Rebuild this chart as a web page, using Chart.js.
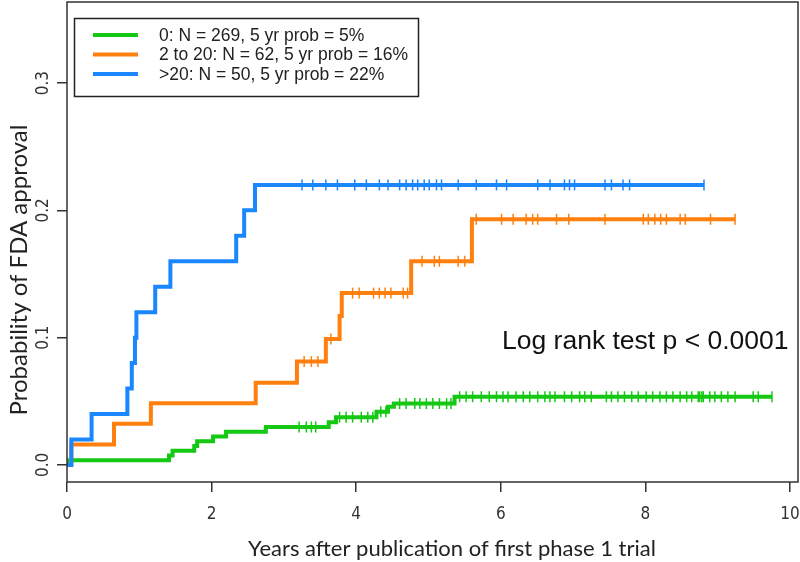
<!DOCTYPE html>
<html>
<head>
<meta charset="utf-8">
<script src="https://cdn.jsdelivr.net/npm/chart.js@4"></script>
<style>
  html, body { margin: 0; padding: 0; background: #fff; }
  #wrap { width: 800px; height: 562px; position: relative; }
</style>
</head>
<body>
<div id="wrap"><canvas id="km"></canvas></div>
<script>
/* ========= DATA ========= */
const xTicks = [0, 2, 4, 6, 8, 10];
const yTicks = [0, 0.1, 0.2, 0.3];
const groupLabels = [
  '0: N = 269, 5 yr prob = 5%',
  '2 to 20: N = 62, 5 yr prob = 16%',
  '>20: N = 50, 5 yr prob = 22%'
];
const groupColors = ['#14c814', '#ff800e', '#1a87ff'];

// step times (years) and cumulative probability after each step
const noneTimes = [0, 1.41, 1.46, 1.76, 1.80, 2.02, 2.20, 2.75, 3.62, 3.72, 4.28, 4.44, 4.52, 5.36];
const noneProbs = [0.0037, 0.0074, 0.0112, 0.0149, 0.0186, 0.0223, 0.026, 0.0298, 0.0336, 0.0375, 0.0418, 0.0458, 0.0482, 0.0536];
const noneEnd = 9.75;
const noneCensor = [3.21, 3.31, 3.38, 3.44, 3.77, 3.86, 3.95, 4.07, 4.16, 4.23, 4.34, 4.41, 4.60, 4.69,
  4.81, 4.88, 4.97, 5.06, 5.15, 5.25, 5.31, 5.43, 5.52, 5.61, 5.73, 5.84, 5.94, 6.03, 6.10, 6.21,
  6.31, 6.40, 6.51, 6.61, 6.68, 6.75, 6.88, 6.98, 7.09, 7.16, 7.25, 7.46, 7.53, 7.62, 7.71, 7.81,
  7.90, 8.01, 8.10, 8.20, 8.29, 8.38, 8.48, 8.57, 8.64, 8.73, 8.75, 8.78, 8.80, 8.89, 8.96, 9.05,
  9.14, 9.24, 9.49, 9.56, 9.75];

const midTimes = [0.06, 0.65, 1.16, 2.61, 3.18, 3.58, 3.77, 3.80, 4.76, 5.60];
const midProbs = [0.0161, 0.0323, 0.0484, 0.0645, 0.0812, 0.099, 0.117, 0.135, 0.160, 0.193];
const midEnd = 9.24;
const midCensor = [3.28, 3.38, 3.47, 3.65, 3.95, 4.04, 4.24, 4.32, 4.40, 4.48, 4.65, 4.71, 4.91,
  5.08, 5.15, 5.41, 5.50, 5.66, 6.01, 6.17, 6.35, 6.44, 6.51, 6.77, 6.94, 7.44, 7.97, 8.04, 8.13,
  8.21, 8.29, 8.48, 8.55, 8.90, 9.24];

const highTimes = [0.06, 0.34, 0.835, 0.896, 0.94, 0.96, 1.22, 1.43, 2.34, 2.45, 2.60];
const highProbs = [0.02, 0.04, 0.06, 0.08, 0.10, 0.12, 0.14, 0.16, 0.18, 0.20, 0.22];
const highEnd = 8.81;
const highCensor = [3.25, 3.40, 3.58, 3.74, 3.98, 4.14, 4.32, 4.44, 4.60, 4.69, 4.78, 4.85, 4.94,
  5.01, 5.11, 5.18, 5.41, 5.66, 5.94, 6.08, 6.51, 6.68, 6.88, 6.95, 7.02, 7.44, 7.53, 7.69, 7.78, 8.81];

const xTitle = 'Years after publication of first phase 1 trial';
const yTitle = 'Probability of FDA approval';
const noteText = 'Log rank test p < 0.0001';

/* ========= HELPERS ========= */
const stepPoints = (times, probs, end) =>
  [{ x: 0, y: 0 }]
    .concat(times.map((t, i) => ({ x: t, y: probs[i] })))
    .concat([{ x: end, y: probs[probs.length - 1] }]);

const valueAt = (times, probs, t) => {
  let v = 0;
  times.forEach((tt, i) => { if (tt <= t) v = probs[i]; });
  return v;
};

// R-style axes: no extra room for half tick labels
const noEdgePadding = s => {
  s.paddingLeft = s.paddingRight = s.paddingTop = s.paddingBottom = 0;
};

const groups = [
  { times: noneTimes, probs: noneProbs, end: noneEnd, censor: noneCensor },
  { times: midTimes, probs: midProbs, end: midEnd, censor: midCensor },
  { times: highTimes, probs: highProbs, end: highEnd, censor: highCensor }
];

const datasets = [];
groups.forEach((g, i) => {
  datasets.push({
    label: groupLabels[i],
    data: stepPoints(g.times, g.probs, g.end),
    borderColor: groupColors[i],
    borderWidth: 4,
    stepped: 'before',
    pointRadius: 0,
    fill: false,
    order: 3 - i
  });
  datasets.push({
    label: groupLabels[i] + ' censored',
    data: g.censor.map(t => ({ x: t, y: valueAt(g.times, g.probs, t) })),
    showLine: false,
    pointStyle: 'line',
    rotation: 90,
    pointRadius: 5.5,
    borderColor: groupColors[i],
    borderWidth: 1.5,
    order: 3 - i
  });
});

/* ========= EXTRAS PLUGIN ========= */
const extras = {
  id: 'extras',
  afterDraw(chart) {
    const { ctx, chartArea: a } = chart;
    ctx.save();
    // plot frame
    ctx.strokeStyle = '#333';
    ctx.lineWidth = 1.5;
    ctx.strokeRect(a.left, a.top, a.right - a.left, a.bottom - a.top);

    // legend
    ctx.strokeStyle = '#222';
    ctx.strokeRect(74.5, 18.5, 344, 78);
    ctx.font = '17.5px "Liberation Sans", Arial, sans-serif';
    ctx.textBaseline = 'middle';
    ctx.textAlign = 'left';
    ctx.fillStyle = '#222';
    groupLabels.forEach((lab, i) => {
      const y = 35 + i * 19.5;
      ctx.strokeStyle = groupColors[i];
      ctx.lineWidth = 4;
      ctx.beginPath();
      ctx.moveTo(93, y);
      ctx.lineTo(138, y);
      ctx.stroke();
      ctx.fillText(lab, 159, y + 1);
    });

    // log rank note
    ctx.font = '26.5px "Liberation Sans", Arial, sans-serif';
    ctx.fillStyle = '#111';
    ctx.fillText(noteText, 502, 342);

    // axis titles
    ctx.fillStyle = '#222';
    ctx.textAlign = 'center';
    ctx.font = '22px Lato, "Open Sans", sans-serif';
    ctx.fillText(xTitle, 452, 549);
    ctx.save();
    ctx.translate(19, 270);
    ctx.rotate(-Math.PI / 2);
    ctx.font = '24px Lato, "Open Sans", sans-serif';
    ctx.fillText(yTitle, 0, 0);
    ctx.restore();
    ctx.restore();
  }
};

/* ========= CHART ========= */
const tickFont = { family: '"Liberation Sans Narrow", "DejaVu Sans Condensed", "Liberation Sans", sans-serif', size: 17 };

new Chart(document.getElementById('km').getContext('2d'), {
  type: 'line',
  data: { datasets },
  options: {
    responsive: true,
    maintainAspectRatio: false,
    animation: false,
    devicePixelRatio: 1,
    layout: { autoPadding: false, padding: { top: 2, right: 2, left: 0, bottom: 0 } },
    plugins: { legend: { display: false }, tooltip: { enabled: false } },
    scales: {
      x: {
        type: 'linear',
        min: 0,
        max: 10.11,
        afterBuildTicks: s => { s.ticks = xTicks.map(v => ({ value: v })); },
        afterFit: s => { s.height = 80; noEdgePadding(s); },
        border: { display: false },
        grid: { drawOnChartArea: false, drawTicks: true, tickLength: 10, color: '#333', lineWidth: 1.5 },
        ticks: { font: tickFont, color: '#333', padding: 12, maxRotation: 0, autoSkip: false }
      },
      y: {
        type: 'linear',
        min: -0.0134,
        max: 0.3637,
        afterBuildTicks: s => { s.ticks = yTicks.map(v => ({ value: v })); },
        afterFit: s => { s.width = 67; noEdgePadding(s); },
        border: { display: false },
        grid: { drawOnChartArea: false, drawTicks: true, tickLength: 10, color: '#333', lineWidth: 1.5 },
        ticks: {
          font: tickFont, color: '#333', padding: 1, minRotation: 90, maxRotation: 90,
          crossAlign: 'center', autoSkip: false,
          callback: v => v.toFixed(1)
        }
      }
    }
  },
  plugins: [extras]
});
</script>
</body>
</html>
